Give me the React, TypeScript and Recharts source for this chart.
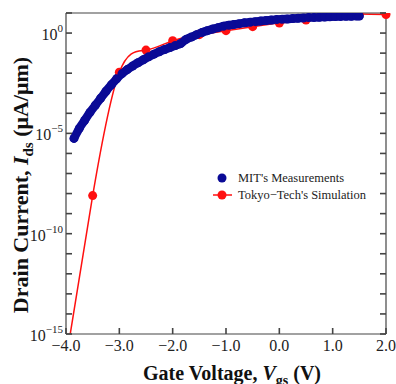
import { Legend, Line, LineChart, XAxis, YAxis } from 'recharts'

// gate voltage (V) and log10 of drain current (uA/um)
const mitVgs = [
  -3.85, -3.75, -3.65, -3.55, -3.45, -3.35, -3.25, -3.15, -3.05, -2.95, -2.85, -2.75, -2.65, -2.55,
  -2.45, -2.35, -2.25, -2.15, -2.05, -1.95, -1.85, -1.75, -1.65, -1.55, -1.45, -1.35, -1.25, -1.15,
  -1.05, -0.95, -0.85, -0.75, -0.65, -0.55, -0.45, -0.35, -0.25, -0.15, -0.05, 0.05, 0.15, 0.25, 0.35,
  0.45, 0.55, 0.65, 0.75, 0.85, 0.95, 1.05, 1.15, 1.25, 1.35, 1.45, 1.5,
]
const mitLogIds = [
  -5.25, -4.75, -4.35, -3.95, -3.6, -3.25, -2.9, -2.58, -2.28, -2.02, -1.82, -1.64, -1.48, -1.33,
  -1.18, -1.05, -0.93, -0.82, -0.72, -0.62, -0.52, -0.32, -0.2, -0.08, 0.03, 0.12, 0.2, 0.27, 0.34,
  0.39, 0.43, 0.47, 0.51, 0.54, 0.57, 0.6, 0.62, 0.65, 0.67, 0.69, 0.7, 0.72, 0.74, 0.75, 0.77, 0.78,
  0.79, 0.8, 0.81, 0.82, 0.83, 0.84, 0.84, 0.85, 0.85,
]

const simVgs = [-4.0, -3.5, -3.0, -2.5, -2.0, -1.5, -1.0, -0.5, 0.0, 0.5, 1.0, 1.5, 2.0]
const simLogIds = [-16.3, -8.1, -1.95, -0.85, -0.38, -0.08, 0.12, 0.32, 0.5, 0.65, 0.88, 0.95, 0.92]

const xTicks = [-4, -3, -2, -1, 0, 1, 2]
const yExponents = [-15, -14, -13, -12, -11, -10, -9, -8, -7, -6, -5, -4, -3, -2, -1, 0, 1]
const yLabelled = [-15, -10, -5, 0]

const mitData = mitVgs.map((v, i) => ({ vgs: v, ids: 10 ** mitLogIds[i] }))
const simData = simVgs.map((v, i) => ({ vgs: v, ids: 10 ** simLogIds[i] }))
const yTicks = yExponents.map((e) => 10 ** e)

const FONT = '"Liberation Serif", "Times New Roman", serif'
const BLUE = '#0a0a96'
const RED = '#ff1010'
const AXIS = '#444'
const TICK = 6
const TW = 1.6

function XTick(props: any) {
  const { x, y, payload } = props
  const v = payload.value as number
  const s = (v < 0 ? '\u2212' : '') + Math.abs(v).toFixed(1)
  return (
    <g>
      <rect x={x - TW / 2} y={y - TICK} width={TW} height={TICK} fill={AXIS} />
      <text x={x} y={y + 17} textAnchor="middle" fontSize={16} fontFamily={FONT} fill="#222">
        {s}
      </text>
    </g>
  )
}

function TopTick(props: any) {
  const { x, y } = props
  return <rect x={x - TW / 2} y={y} width={TW} height={TICK} fill={AXIS} />
}

function RightTick(props: any) {
  const { x, y } = props
  return <rect x={x - TICK} y={y - TW / 2} width={TICK} height={TW} fill={AXIS} />
}

function YTick(props: any) {
  const { x, y, payload } = props
  const e = Math.round(Math.log10(payload.value))
  const exp = e < 0 ? '\u2212' + Math.abs(e) : String(e)
  return (
    <g>
      <rect x={x} y={y - TW / 2} width={TICK} height={TW} fill={AXIS} />
      {yLabelled.includes(e) && (
        <text x={x - 3} y={y + 7} textAnchor="end" fontSize={16} fontFamily={FONT} fill="#222">
          10
          <tspan fontSize={11} dy={-8}>
            {exp}
          </tspan>
        </text>
      )}
    </g>
  )
}

function SimDot({ cx, cy, payload }: any) {
  if (payload.ids < 1e-15) return null
  return <circle cx={cx} cy={cy} r={4.5} fill={RED} />
}

function XLabel({ viewBox }: any) {
  const cx = viewBox.x + viewBox.width / 2 + 6
  return (
    <text x={cx} y={380} textAnchor="middle" fontSize={20} fontWeight="bold" fontFamily={FONT} fill="#111">
      Gate Voltage,{' '}
      <tspan fontStyle="italic">V</tspan>
      <tspan fontSize={14} dy={5}>
        gs
      </tspan>
      <tspan dy={-5}> (V)</tspan>
    </text>
  )
}

function YLabel() {
  return (
    <text
      x={0}
      y={0}
      transform="translate(28, 185) rotate(-90)"
      textAnchor="middle"
      fontSize={22}
      fontWeight="bold"
      fontFamily={FONT}
      fill="#111"
    >
      Drain Current,{' '}
      <tspan fontStyle="italic">I</tspan>
      <tspan fontSize={15} dy={5}>
        ds
      </tspan>
      <tspan dy={-5}> (μA/μm)</tspan>
    </text>
  )
}

function LegendBox() {
  const txt = { fontSize: 12.5, fontFamily: FONT, fill: '#222' }
  return (
    <svg width={170} height={40}>
      <circle cx={17} cy={10} r={4.5} fill={BLUE} />
      <text x={33} y={14} {...txt}>
        MIT's Measurements
      </text>
      <line x1={8} x2={27} y1={27} y2={27} stroke={RED} strokeWidth={1.5} />
      <circle cx={17} cy={27} r={4.5} fill={RED} />
      <text x={33} y={31} {...txt}>
        Tokyo−Tech's Simulation
      </text>
    </svg>
  )
}

export default function App() {
  return (
    <div style={{ position: 'absolute', left: 0, top: 0 }}>
      <LineChart width={396} height={384} margin={{ top: 0, right: 0, bottom: 0, left: 0 }}>
        <XAxis
          xAxisId="b"
          dataKey="vgs"
          type="number"
          domain={[-4, 2]}
          ticks={xTicks}
          interval={0}
          height={50}
          axisLine={{ stroke: AXIS, strokeWidth: 1.2 }}
          tickLine={false}
          tickSize={0}
          tickMargin={0}
          tick={<XTick />}
          label={<XLabel />}
        />
        <XAxis
          xAxisId="t"
          orientation="top"
          dataKey="vgs"
          type="number"
          domain={[-4, 2]}
          ticks={xTicks}
          interval={0}
          height={13}
          axisLine={{ stroke: AXIS, strokeWidth: 1.2 }}
          tickLine={false}
          tickSize={0}
          tickMargin={0}
          tick={<TopTick />}
        />
        <YAxis
          yAxisId="l"
          scale="log"
          type="number"
          domain={[1e-15, 10]}
          ticks={yTicks}
          allowDataOverflow
          width={66}
          axisLine={{ stroke: AXIS, strokeWidth: 1.2 }}
          tickLine={false}
          tickSize={0}
          tickMargin={0}
          tick={<YTick />}
          interval={0}
          label={<YLabel />}
        />
        <YAxis
          yAxisId="r"
          orientation="right"
          scale="log"
          type="number"
          domain={[1e-15, 10]}
          ticks={yTicks}
          allowDataOverflow
          width={10}
          axisLine={{ stroke: AXIS, strokeWidth: 1.2 }}
          tickLine={false}
          tickSize={0}
          tickMargin={0}
          tick={<RightTick />}
          interval={0}
        />
        <Legend
          layout="vertical"
          align="center"
          verticalAlign="middle"
          content={<LegendBox />}
          wrapperStyle={{ left: 205, top: 168, width: 170 }}
        />
        <Line
          xAxisId="b"
          yAxisId="l"
          data={simData}
          dataKey="ids"
          type="natural"
          stroke={RED}
          strokeWidth={1.5}
          dot={<SimDot />}
          activeDot={false}
          isAnimationActive={false}
        />
        <Line
          xAxisId="b"
          yAxisId="l"
          data={mitData}
          dataKey="ids"
          type="monotone"
          stroke={BLUE}
          strokeWidth={8.5}
          strokeLinecap="round"
          dot={{ r: 4.5, fill: BLUE, stroke: 'none' }}
          activeDot={false}
          isAnimationActive={false}
        />
      </LineChart>
    </div>
  )
}
